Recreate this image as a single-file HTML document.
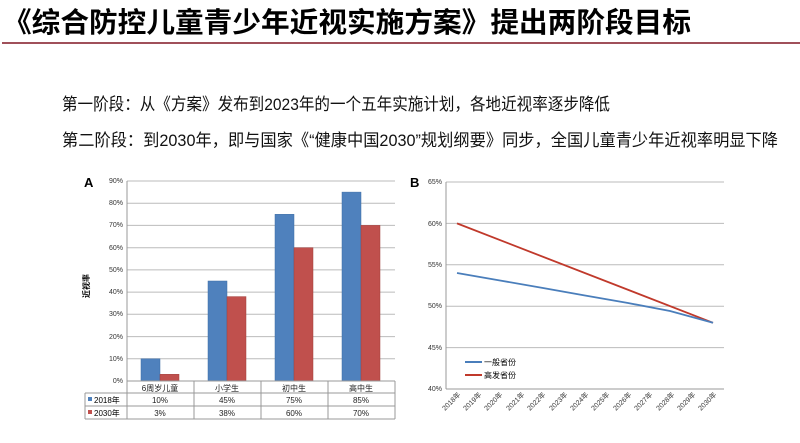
<!DOCTYPE html>
<html><head><meta charset="utf-8"><style>
html,body{margin:0;padding:0;background:#fff;}
svg{display:block;font-family:"Liberation Sans","Noto Sans CJK SC",sans-serif;}
</style></head><body>
<svg width="800" height="443" viewBox="0 0 800 443" xmlns="http://www.w3.org/2000/svg">
<text x="3" y="32" font-size="28" font-weight="bold" fill="#000" textLength="688" lengthAdjust="spacingAndGlyphs">《综合防控儿童青少年近视实施方案》提出两阶段目标</text>
<line x1="2" y1="43" x2="800" y2="43" stroke="#a0505a" stroke-width="2"/>
<text x="62" y="110" font-size="17" fill="#111" textLength="548" lengthAdjust="spacingAndGlyphs">第一阶段：从《方案》发布到2023年的一个五年实施计划，各地近视率逐步降低</text>
<text x="62" y="146" font-size="17" fill="#111" textLength="716" lengthAdjust="spacingAndGlyphs">第二阶段：到2030年，即与国家《“健康中国2030”规划纲要》同步，全国儿童青少年近视率明显下降</text>

<!-- Chart A -->
<text x="84" y="187" font-size="13" font-weight="bold">A</text>
<g stroke="#bbb" stroke-width="1">
<line x1="127" y1="181" x2="395" y2="181"/><line x1="127" y1="203.2" x2="395" y2="203.2"/>
<line x1="127" y1="225.4" x2="395" y2="225.4"/><line x1="127" y1="247.7" x2="395" y2="247.7"/>
<line x1="127" y1="269.9" x2="395" y2="269.9"/><line x1="127" y1="292.1" x2="395" y2="292.1"/>
<line x1="127" y1="314.3" x2="395" y2="314.3"/><line x1="127" y1="336.6" x2="395" y2="336.6"/>
<line x1="127" y1="358.8" x2="395" y2="358.8"/>
</g>
<g font-size="7" fill="#333" text-anchor="end">
<text x="123" y="183">90%</text><text x="123" y="205">80%</text><text x="123" y="227">70%</text>
<text x="123" y="250">60%</text><text x="123" y="272">50%</text><text x="123" y="294">40%</text>
<text x="123" y="316">30%</text><text x="123" y="339">20%</text><text x="123" y="361">10%</text>
<text x="123" y="383">0%</text>
</g>
<text x="0" y="0" font-size="8" font-weight="bold" transform="translate(89,298) rotate(-90)">近视率</text>
<g fill="#4f81bd" stroke="#3f6fa5" stroke-width="0.5">
<rect x="141" y="358.8" width="19" height="22.2"/>
<rect x="208" y="281" width="19" height="100"/>
<rect x="275" y="214.3" width="19" height="166.7"/>
<rect x="342" y="192.1" width="19" height="188.9"/>
</g>
<g fill="#c0504d" stroke="#a0403d" stroke-width="0.5">
<rect x="160" y="374.3" width="19" height="6.7"/>
<rect x="227" y="296.6" width="19" height="84.4"/>
<rect x="294" y="247.7" width="19" height="133.3"/>
<rect x="361" y="225.4" width="19" height="155.6"/>
</g>
<g stroke="#999" stroke-width="1" fill="none">
<line x1="127" y1="181" x2="127" y2="419"/>
<line x1="127" y1="381" x2="395" y2="381"/>
<line x1="85" y1="393" x2="395" y2="393"/>
<line x1="85" y1="406" x2="395" y2="406"/>
<line x1="85" y1="419" x2="395" y2="419"/>
<line x1="85" y1="393" x2="85" y2="419"/>
<line x1="194" y1="381" x2="194" y2="419"/>
<line x1="261" y1="381" x2="261" y2="419"/>
<line x1="328" y1="381" x2="328" y2="419"/>
<line x1="395" y1="381" x2="395" y2="419"/>
</g>
<g font-size="8" fill="#222" text-anchor="middle">
<text x="160" y="391">6周岁儿童</text><text x="227" y="391">小学生</text><text x="294" y="391">初中生</text><text x="361" y="391">高中生</text>
<text x="160" y="403">10%</text><text x="227" y="403">45%</text><text x="294" y="403">75%</text><text x="361" y="403">85%</text>
<text x="160" y="416">3%</text><text x="227" y="416">38%</text><text x="294" y="416">60%</text><text x="361" y="416">70%</text>
</g>
<rect x="88" y="397" width="4" height="4" fill="#4f81bd"/>
<text x="94" y="403" font-size="8">2018年</text>
<rect x="88" y="410" width="4" height="4" fill="#c0504d"/>
<text x="94" y="416" font-size="8">2030年</text>

<!-- Chart B -->
<text x="410" y="187" font-size="13" font-weight="bold">B</text>
<g stroke="#bbb" stroke-width="1">
<line x1="446" y1="182" x2="724" y2="182"/><line x1="446" y1="223.4" x2="724" y2="223.4"/>
<line x1="446" y1="264.8" x2="724" y2="264.8"/><line x1="446" y1="306.2" x2="724" y2="306.2"/>
<line x1="446" y1="347.6" x2="724" y2="347.6"/>
</g>
<g stroke="#999" stroke-width="1">
<line x1="446" y1="182" x2="446" y2="389"/>
<line x1="446" y1="389" x2="724" y2="389"/>
</g>
<g font-size="7" fill="#333" text-anchor="end">
<text x="442" y="184">65%</text><text x="442" y="226">60%</text><text x="442" y="267">55%</text>
<text x="442" y="308">50%</text><text x="442" y="350">45%</text><text x="442" y="391">40%</text>
</g>
<g font-size="7" fill="#333" text-anchor="end">
<text transform="translate(461,395) rotate(-45)">2018年</text>
<text transform="translate(482,395) rotate(-45)">2019年</text>
<text transform="translate(503,395) rotate(-45)">2020年</text>
<text transform="translate(525,395) rotate(-45)">2021年</text>
<text transform="translate(546,395) rotate(-45)">2022年</text>
<text transform="translate(568,395) rotate(-45)">2023年</text>
<text transform="translate(589,395) rotate(-45)">2024年</text>
<text transform="translate(610,395) rotate(-45)">2025年</text>
<text transform="translate(632,395) rotate(-45)">2026年</text>
<text transform="translate(653,395) rotate(-45)">2027年</text>
<text transform="translate(675,395) rotate(-45)">2028年</text>
<text transform="translate(696,395) rotate(-45)">2029年</text>
<text transform="translate(717,395) rotate(-45)">2030年</text>
</g>
<polyline fill="none" stroke="#c0392b" stroke-width="1.8" points="457,223.4 713,322.8"/>
<polyline fill="none" stroke="#4a7ebb" stroke-width="1.8" points="457,273 500,280.5 543,288 585,295.5 628,303 670,311 713,322.8"/>
<line x1="465" y1="362" x2="482" y2="362" stroke="#4a7ebb" stroke-width="2"/>
<text x="484" y="365" font-size="8">一般省份</text>
<line x1="465" y1="375" x2="482" y2="375" stroke="#c0392b" stroke-width="2"/>
<text x="484" y="378" font-size="8">高发省份</text>
</svg>
</body></html>
